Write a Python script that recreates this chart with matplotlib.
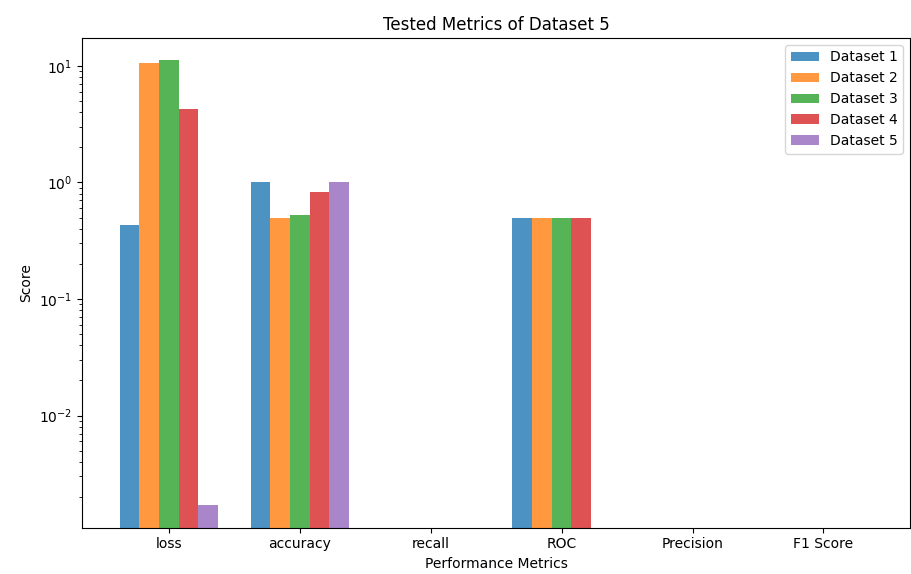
import matplotlib
matplotlib.use("Agg")
import matplotlib.pyplot as plt
import numpy as np

metrics = ["loss", "accuracy", "recall", "ROC", "Precision", "F1 Score"]
datasets = ["Dataset 1", "Dataset 2", "Dataset 3", "Dataset 4", "Dataset 5"]

# scores per dataset, in the order of metrics
d1 = [0.43, 1.0, 0.0, 0.5, 0.0, 0.0]
d2 = [10.5, 0.5, 0.0, 0.5, 0.0, 0.0]
d3 = [11.2, 0.53, 0.0, 0.5, 0.0, 0.0]
d4 = [4.3, 0.82, 0.0, 0.5, 0.0, 0.0]
d5 = [0.0017, 1.0, 0.0, 0.0, 0.0, 0.0]
scores = [d1, d2, d3, d4, d5]

x = np.arange(len(metrics))
width = 0.15

fig, ax = plt.subplots(figsize=(9.12, 5.74), dpi=100)
for i, (name, vals) in enumerate(zip(datasets, scores)):
    ax.bar(x + (i - 2) * width, vals, width, label=name, alpha=0.8)

ax.set_yscale("log")
ax.set_xticks(x)
ax.set_xticklabels(metrics)
ax.set_xlabel("Performance Metrics")
ax.set_ylabel("Score")
ax.set_title("Tested Metrics of Dataset 5")
ax.legend(loc="upper right")

fig.subplots_adjust(left=0.09, right=0.998, top=0.934, bottom=0.081)
fig.savefig("out.png")
